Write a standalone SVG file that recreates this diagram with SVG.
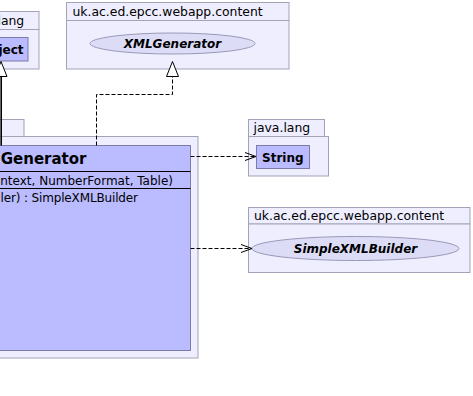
<svg xmlns="http://www.w3.org/2000/svg" width="473" height="396" viewBox="0 0 473 396">
  <style>
    text { font-family: "DejaVu Sans", "Liberation Sans", sans-serif; font-size: 12px; fill: #000; }
    .lbl { font-size: 12.4px; }
    .pkg { fill: #eeeeff; stroke: #a3a3b8; stroke-width: 1; }
    .cls { fill: #bbbbff; stroke: #7c7ca8; stroke-width: 1; }
    .iface { fill: #dcdcf6; stroke: #9a9ab8; stroke-width: 1; }
    .bold { font-weight: bold; }
    .ital { font-weight: bold; font-style: italic; }
    .title { font-weight: bold; font-size: 15px; }
    .dep { fill: none; stroke: #000; stroke-width: 1; stroke-dasharray: 4,2; }
    .open { fill: none; stroke: #000; stroke-width: 1; }
    .tri { fill: #fff; stroke: #000; stroke-width: 1; }
  </style>

  <!-- java.lang package holding Object -->
  <g id="pkg-java-lang-object">
    <rect class="pkg" x="-60.5" y="11.5" width="99.5" height="18"/>
    <rect class="pkg" x="-60.5" y="29.5" width="99.5" height="39.5"/>
    <text class="lbl" x="24.2" y="25" text-anchor="end">java.lang</text>
    <g id="Object">
      <rect class="cls" x="-30.5" y="37.5" width="58.5" height="23.5"/>
      <text class="bold" x="23.5" y="53.5" text-anchor="end">Object</text>
    </g>
  </g>

  <!-- content package holding the XMLGenerator interface -->
  <g id="pkg-content-xmlgenerator">
    <rect class="pkg" x="66.5" y="2.5" width="222.5" height="18"/>
    <rect class="pkg" x="66.5" y="20.5" width="222.5" height="48.5"/>
    <text class="lbl" x="72.5" y="16">uk.ac.ed.epcc.webapp.content</text>
    <g id="XMLGenerator">
      <ellipse class="iface" cx="172.5" cy="43.5" rx="82.5" ry="10.5"/>
      <text class="ital" x="172.5" y="48" text-anchor="middle" font-size="12.4">XMLGenerator</text>
    </g>
  </g>

  <!-- package holding the generator class -->
  <g id="pkg-generator">
    <rect class="pkg" x="-60.5" y="119.5" width="84.5" height="17"/>
    <rect class="pkg" x="-60.5" y="136.5" width="258.5" height="221.5"/>
    <g id="Generator">
      <rect class="cls" x="-52.5" y="145.5" width="243" height="205"/>
      <text class="title" x="86.5" y="163.5" text-anchor="end">Generator</text>
      <line x1="-52.5" y1="171.5" x2="190.5" y2="171.5" stroke="#000"/>
      <text x="173" y="184.5" text-anchor="end">ntext, NumberFormat, Table)</text>
      <line x1="-52.5" y1="188.5" x2="190.5" y2="188.5" stroke="#000"/>
      <text x="0.5" y="201.5" textLength="137.5">ler) : SimpleXMLBuilder</text>
    </g>
  </g>

  <!-- java.lang package holding String -->
  <g id="pkg-java-lang-string">
    <rect class="pkg" x="248.5" y="119.5" width="76" height="17"/>
    <rect class="pkg" x="248.5" y="136.5" width="80" height="39.5"/>
    <text class="lbl" x="253.5" y="132">java.lang</text>
    <g id="String">
      <rect class="cls" x="256.5" y="145.5" width="53" height="23"/>
      <text class="bold" x="262" y="161.5">String</text>
    </g>
  </g>

  <!-- content package holding the SimpleXMLBuilder interface -->
  <g id="pkg-content-builder">
    <rect class="pkg" x="248.5" y="207.5" width="221.5" height="16.5"/>
    <rect class="pkg" x="248.5" y="224" width="221.5" height="48.5"/>
    <text class="lbl" x="254" y="219.5">uk.ac.ed.epcc.webapp.content</text>
    <g id="SimpleXMLBuilder">
      <ellipse class="iface" cx="355.5" cy="248.5" rx="103.5" ry="12"/>
      <text class="ital" x="355.5" y="253" text-anchor="middle">SimpleXMLBuilder</text>
    </g>
  </g>

  <!-- connectors -->
  <g id="connectors">
    <!-- generalization to Object -->
    <line x1="1.2" y1="76" x2="1.2" y2="145.5" stroke="#000" stroke-width="1.6"/>
    <polygon class="tri" points="1,61.5 -5,76.5 7,76.5"/>
    <!-- realization of XMLGenerator -->
    <polyline class="dep" points="96.5,145.5 96.5,94.5 172.5,94.5 172.5,77"/>
    <polygon class="tri" points="172.5,61.5 166.5,76.5 178.5,76.5"/>
    <!-- dependency on String -->
    <line class="dep" x1="190.5" y1="156.5" x2="255" y2="156.5"/>
    <polyline class="open" points="245,152.5 256,156.5 245,160.5"/>
    <!-- dependency on SimpleXMLBuilder -->
    <line class="dep" x1="190.5" y1="248.5" x2="251" y2="248.5"/>
    <polyline class="open" points="241,244.5 252,248.5 241,252.5"/>
  </g>
</svg>
